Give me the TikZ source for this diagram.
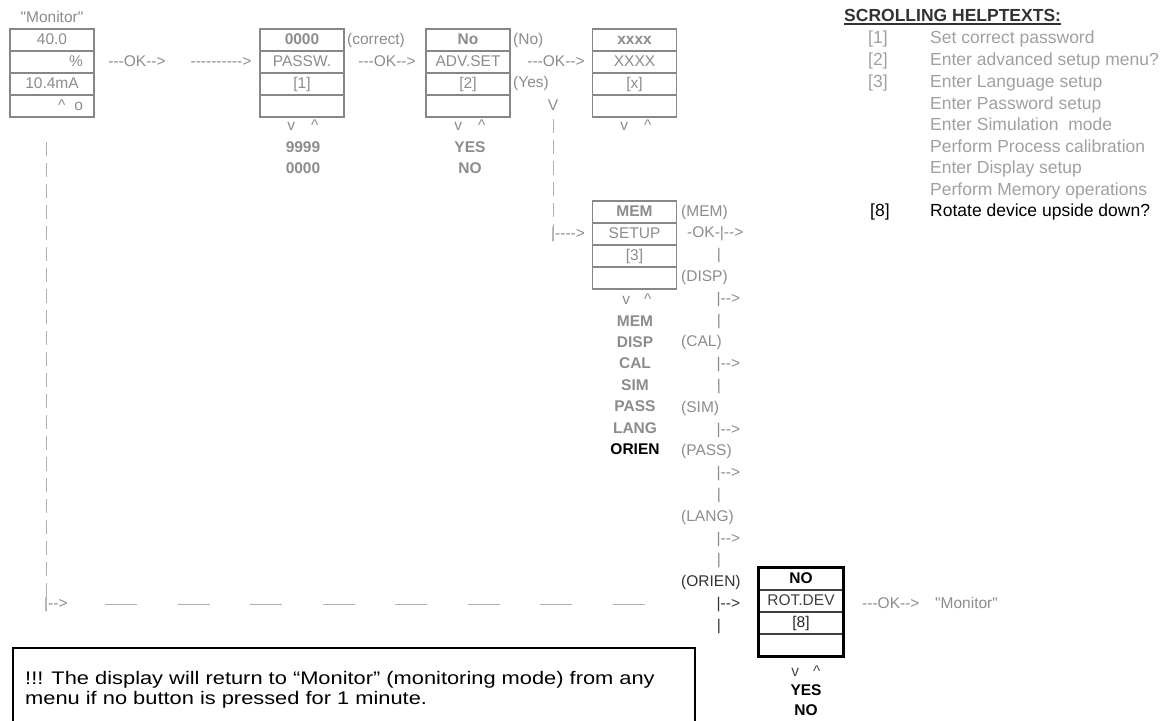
\documentclass[tikz,border=0pt]{standalone}
\usepackage{fontspec}
\newfontfamily\arialf{Liberation Sans}
\newfontfamily\arialn[FakeStretch=1.2]{Liberation Sans}
\definecolor{tgray}{RGB}{140,140,140}
\definecolor{bgray}{RGB}{135,135,135}
\definecolor{lgray}{RGB}{175,175,175}
\definecolor{hgray}{RGB}{160,160,160}
\definecolor{ttl}{RGB}{50,50,50}
\begin{document}
\begin{tikzpicture}[x=1pt,y=-1pt,
  base/.style={inner sep=0pt, text=tgray, font=\arialf\fontsize{15.5}{18}\selectfont, text height=11pt, text depth=3pt},
  bbase/.style={base, font=\arialf\bfseries\fontsize{15.5}{18}\selectfont},
  lbl/.style={base, anchor=west},
  cell/.style={base, draw=bgray, line width=1.1pt, minimum width=84pt, minimum height=22pt},
  hcell/.style={cell, font=\arialf\bfseries\fontsize{15.5}{18}\selectfont},
  rcell/.style={cell, draw=black!75, text=black!75},
  rhcell/.style={rcell, font=\arialf\bfseries\fontsize{15.5}{18}\selectfont, text=black},
  vdash/.style={draw=lgray, line width=1pt, dash pattern=on 14pt off 7pt},
  hdash/.style={draw=lgray, line width=1pt, dash pattern=on 32pt off 40.5pt},
  hlp/.style={inner sep=0pt, anchor=west, text=hgray, font=\arialf\fontsize{17.5}{20}\selectfont, text height=13pt, text depth=4pt},
  updown/.style={base},
]
\useasboundingbox (0,0) rectangle (1164,720);

% ---- Monitor box
\node[base] (monlbl) at (52,19) {"Monitor"};
\node[cell] (m1) at (52,40) {40.0};
\node[cell, align=right, text width=62pt] (m2) at (52,62) {\%};
\node[cell] (m3) at (52,84) {10.4mA};
\node[cell, align=right, text width=62pt] (m4) at (52,106) {\textasciicircum\hspace{9pt}o};

\node[base] (ok1) at (137,62) {---OK-->};
\node[base] (arr1) at (221,62) {---------->};

% ---- Password box
\node[hcell] (p1) at (302,40) {0000};
\node[cell] (p2) at (302,62) {PASSW.};
\node[cell] (p3) at (302,84) {[1]};
\node[cell] (p4) at (302,106) {};
\node[lbl] (corr) at (347,40) {(correct)};
\node[base] (ok2) at (387,62) {---OK-->};
\node[updown] (pud) at (303,126) {v\hspace{16pt}\textasciicircum};
\node[bbase] (p9) at (303,148) {9999};
\node[bbase] (p0) at (303,169) {0000};

% ---- Advanced setup box
\node[hcell] (a1) at (468,40) {No};
\node[cell] (a2) at (468,62) {ADV.SET};
\node[cell] (a3) at (468,84) {[2]};
\node[cell] (a4) at (468,106) {};
\node[lbl] (ano) at (513,40) {(No)};
\node[lbl] (ayes) at (513,83) {(Yes)};
\node[base] (ok3) at (556,62) {---OK-->};
\node[updown] (aud) at (470,126) {v\hspace{16pt}\textasciicircum};
\node[bbase] (ay) at (470,148) {YES};
\node[bbase] (an) at (470,169) {NO};
\node[base] (vv) at (553,106) {V};

% ---- xxxx box
\node[hcell] (x1) at (634.5,40) {xxxx};
\node[cell] (x2) at (634.5,62) {XXXX};
\node[cell] (x3) at (634.5,84) {[x]};
\node[cell] (x4) at (634.5,106) {};
\node[updown] (xud) at (636,126) {v\hspace{16pt}\textasciicircum};

% ---- MEM / SETUP box
\node[lbl] (toMem) at (551,234) {|---->};
\draw[vdash, shorten <=6pt] (vv.south) -- (vv.south |- toMem.north);
\node[hcell] (r1) at (634.5,212) {MEM};
\node[cell] (r2) at (634.5,234) {SETUP};
\node[cell] (r3) at (634.5,256) {[3]};
\node[cell] (r4) at (634.5,278) {};
\node[updown] (rud) at (637,300) {v\hspace{14pt}\textasciicircum};
\node[bbase] (l1) at (635,322) {MEM};
\node[bbase] (l2) at (635,343.4) {DISP};
\node[bbase] (l3) at (635,364.8) {CAL};
\node[bbase] (l4) at (635,386.2) {SIM};
\node[bbase] (l5) at (635,407.6) {PASS};
\node[bbase] (l6) at (635,429) {LANG};
\node[bbase, text=black] (l7) at (635,450.4) {ORIEN};

% ---- right column
\node[lbl] (rc0) at (681,212.0) {(MEM)};
\node[lbl] (rc1) at (687,233.8) {-OK-|-->};
\node[base] (rc2) at (719,255.6) {|};
\node[lbl] (rc3) at (681,277.4) {(DISP)};
\node[lbl] (rc4) at (716.5,299.2) {|-->};
\node[base] (rc5) at (719,321.0) {|};
\node[lbl] (rc6) at (681,342.8) {(CAL)};
\node[lbl] (rc7) at (716.5,364.6) {|-->};
\node[base] (rc8) at (719,386.4) {|};
\node[lbl] (rc9) at (681,408.2) {(SIM)};
\node[lbl] (rc10) at (716.5,430.0) {|-->};
\node[lbl] (rc11) at (681,451.8) {(PASS)};
\node[lbl] (rc12) at (716.5,473.6) {|-->};
\node[base] (rc13) at (719,495.4) {|};
\node[lbl] (rc14) at (681,517.2) {(LANG)};
\node[lbl] (rc15) at (716.5,539.0) {|-->};
\node[base] (rc16) at (719,560.8) {|};
\node[lbl, text=black!80] (rc17) at (681,582.6) {(ORIEN)};
\node[lbl, text=black!80] (rc18) at (716.5,604.4) {|-->};
\node[base, text=black!80] (rc19) at (719,626.2) {|};

% ---- ROT.DEV box
\node[rhcell] (t1) at (801,579) {NO};
\node[rcell] (t2) at (801,601) {ROT.DEV};
\node[rcell, text=black!85] (t3) at (801,623) {[8]};
\node[rcell] (t4) at (801,645) {};
\draw[line width=3pt, black] (t1.north west) rectangle (t4.south east);
\node[updown, text=black!70] (tud) at (806,672) {v\hspace{14pt}\textasciicircum};
\node[bbase, text=black] (ty) at (806,691) {YES};
\node[bbase, text=black] (tn) at (806,711) {NO};
\node[lbl] (ok4) at (862,604) {---OK-->};
\node[lbl] (mon2) at (935,604) {"Monitor"};

% ---- left return line
\coordinate (ls) at (46,142);
\node[lbl] (botL) at (44,604) {|-->};
\draw[vdash] (ls) -- (ls |- botL.north);
\coordinate (hs) at (105,604);
\coordinate (he) at (645,604);
\draw[hdash] (hs) -- (he);

% ---- help texts
\node[inner sep=0pt, anchor=west, text=ttl, font=\arialf\bfseries\fontsize{17.5}{20}\selectfont] (title) at (844,15) {SCROLLING HELPTEXTS:};
\draw[ttl, line width=1.3pt] ([yshift=-2.5pt]title.south west) -- ([yshift=-2.5pt]title.south east);
\node[hlp] (b1) at (868,39) {[1]};
\node[hlp] (h1) at (930,39) {Set correct password};
\node[hlp] (b2) at (868,61) {[2]};
\node[hlp] (h2) at (930,61) {Enter advanced setup menu?};
\node[hlp] (b3) at (868,83) {[3]};
\node[hlp] (h3) at (930,83) {Enter Language setup};
\node[hlp] (h4) at (930,104.5) {Enter Password setup};
\node[hlp] (h5) at (930,126) {Enter Simulation\ \ mode};
\node[hlp] (h6) at (930,147.5) {Perform Process calibration};
\node[hlp] (h7) at (930,169) {Enter Display setup};
\node[hlp] (h8) at (930,190.5) {Perform Memory operations};
\node[hlp, text=black] (b8) at (870,212) {[8]};
\node[hlp, text=black] (h9) at (930,212) {Rotate device upside down?};

% ---- note box
\draw[line width=1.3pt, black] (13,724) -- (13,648) -- (695,648) -- (695,724);
\node[inner sep=0pt, anchor=west, align=left, text=black, font=\arialn\fontsize{18.2}{20}\selectfont] (note) at (25,690)
  {!!! The display will return to “Monitor” (monitoring mode) from any\\menu if no button is pressed for 1 minute.};
\end{tikzpicture}
\end{document}
